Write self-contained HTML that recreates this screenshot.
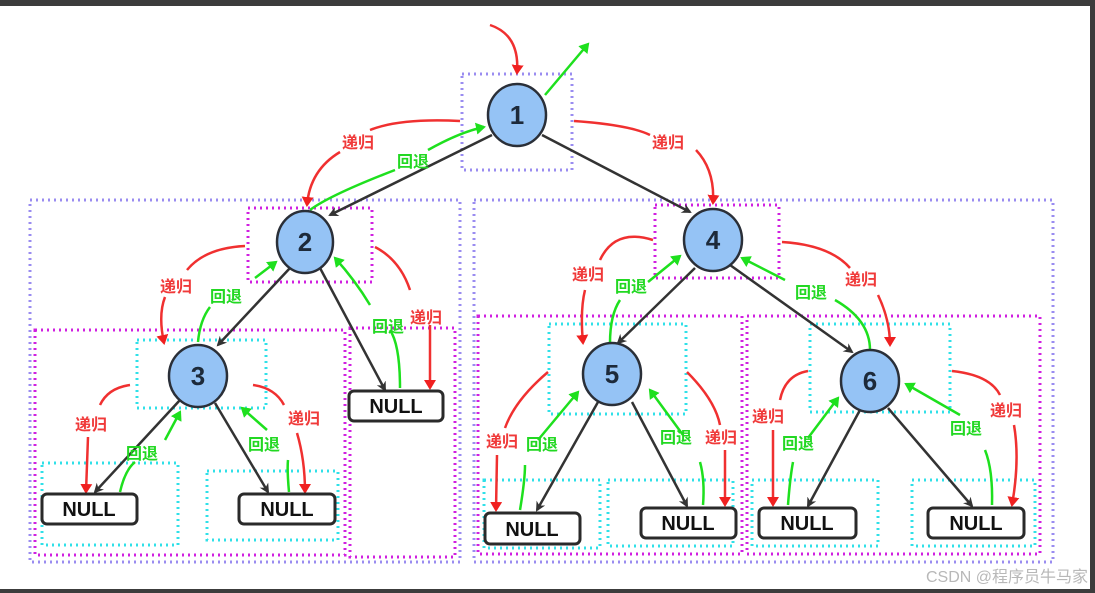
<!DOCTYPE html>
<html><head><meta charset="utf-8"><style>
html,body{margin:0;padding:0;background:#fff;}
svg{display:block;}
text{font-family:"Liberation Sans","Noto Sans CJK SC",sans-serif;}
.lb{font-size:16px;font-weight:bold;}
.r{fill:#f03a3a;}
.g{fill:#22d822;}
.nul{font-size:20px;font-weight:bold;fill:#111;}
.num{font-size:26px;font-weight:bold;fill:#1d2a3a;}
</style></head><body>
<svg width="1095" height="593" viewBox="0 0 1095 593" xmlns="http://www.w3.org/2000/svg">
<defs>
<marker id="ab" markerWidth="10" markerHeight="10" refX="8" refY="5" orient="auto" markerUnits="userSpaceOnUse"><path d="M0,0 L10,5 L0,10 L3,5z" fill="#333"/></marker>
<marker id="ar" markerWidth="10" markerHeight="12" refX="8" refY="6" orient="auto" markerUnits="userSpaceOnUse"><path d="M0,0 L10,6 L0,12z" fill="#f02020"/></marker>
<marker id="ag" markerWidth="10" markerHeight="12" refX="8" refY="6" orient="auto" markerUnits="userSpaceOnUse"><path d="M0,0 L10,6 L0,12z" fill="#1ee01e"/></marker>
</defs>
<rect x="0" y="0" width="1095" height="6" fill="#3c3c3c"/>
<rect x="0" y="589" width="1095" height="4" fill="#3c3c3c"/>
<rect x="1090" y="0" width="5" height="593" fill="#3c3c3c"/>

<g fill="none" stroke-width="3" stroke-dasharray="2 4">
<g stroke="#9a8cf0">
<rect x="462" y="74" width="110" height="96"/>
<rect x="30" y="200" width="430" height="362"/>
<rect x="474" y="200" width="579" height="362"/>
</g>
<g stroke="#d020e0">
<rect x="248" y="208" width="124" height="74"/>
<rect x="655" y="205" width="124" height="73"/>
<rect x="35" y="330" width="310" height="225"/>
<rect x="350" y="328" width="105" height="229"/>
<rect x="478" y="316" width="264" height="238"/>
<rect x="747" y="316" width="293" height="238"/>
</g>
<g stroke="#30e0e8">
<rect x="137" y="340" width="129" height="68"/>
<rect x="42" y="463" width="136" height="82"/>
<rect x="207" y="471" width="131" height="69"/>
<rect x="549" y="324" width="137" height="90"/>
<rect x="810" y="324" width="140" height="88"/>
<rect x="484" y="480" width="116" height="68"/>
<rect x="608" y="480" width="125" height="66"/>
<rect x="752" y="480" width="126" height="66"/>
<rect x="912" y="480" width="123" height="66"/>
</g>
</g>

<!-- black edges -->
<g stroke="#333" stroke-width="2.5" fill="none">
<line x1="492" y1="135" x2="330" y2="215" marker-end="url(#ab)"/>
<line x1="542" y1="135" x2="690" y2="212" marker-end="url(#ab)"/>
<line x1="290" y1="268" x2="218" y2="345" marker-end="url(#ab)"/>
<line x1="320" y1="268" x2="385" y2="390" marker-end="url(#ab)"/>
<line x1="180" y1="400" x2="95" y2="492" marker-end="url(#ab)"/>
<line x1="215" y1="403" x2="268" y2="492" marker-end="url(#ab)"/>
<line x1="695" y1="268" x2="618" y2="343" marker-end="url(#ab)"/>
<line x1="730" y1="265" x2="852" y2="352" marker-end="url(#ab)"/>
<line x1="598" y1="402" x2="537" y2="510" marker-end="url(#ab)"/>
<line x1="632" y1="402" x2="687" y2="506" marker-end="url(#ab)"/>
<line x1="860" y1="410" x2="808" y2="506" marker-end="url(#ab)"/>
<line x1="888" y1="408" x2="972" y2="506" marker-end="url(#ab)"/>
</g>

<!-- red curves -->
<g stroke="#f03030" stroke-width="2.5" fill="none">
<path d="M490,25 Q520,35 517,73" marker-end="url(#ar)"/>
<path d="M460,121 Q400,118 370,130 M340,152 Q310,170 307,205" marker-end="url(#ar)"/>
<path d="M574,121 Q630,125 650,135 M696,150 Q715,170 713,203" marker-end="url(#ar)"/>
<path d="M245,246 Q205,248 187,270 M165,297 Q158,315 164,343" marker-end="url(#ar)"/>
<path d="M375,247 Q400,260 410,290 M430,325 L430,388" marker-end="url(#ar)"/>
<path d="M130,385 Q108,388 100,405 M88,437 L86,492" marker-end="url(#ar)"/>
<path d="M253,385 Q275,388 284,405 M297,433 Q305,460 305,492" marker-end="url(#ar)"/>
<path d="M653,240 Q615,228 600,260 M585,290 Q580,310 583,343" marker-end="url(#ar)"/>
<path d="M782,242 Q830,245 850,268 M878,295 Q890,320 890,345" marker-end="url(#ar)"/>
<path d="M548,372 Q515,400 505,428 M497,455 L496,510" marker-end="url(#ar)"/>
<path d="M687,372 Q715,400 720,425 M725,450 L725,505" marker-end="url(#ar)"/>
<path d="M808,371 Q785,375 780,400 M773,430 L773,505" marker-end="url(#ar)"/>
<path d="M952,371 Q990,375 1000,395 M1014,425 Q1020,460 1012,505" marker-end="url(#ar)"/>
</g>

<!-- green curves -->
<g stroke="#1ee01e" stroke-width="2.5" fill="none">
<path d="M545,95 L588,44" marker-end="url(#ag)"/>
<path d="M310,210 Q330,195 395,170 M428,150 Q460,132 484,127" marker-end="url(#ag)"/>
<path d="M198,342 Q200,320 210,307 M255,278 L276,262" marker-end="url(#ag)"/>
<path d="M400,388 Q400,345 390,330 M370,305 Q355,280 335,258" marker-end="url(#ag)"/>
<path d="M120,492 Q125,470 135,462 M165,440 L180,412" marker-end="url(#ag)"/>
<path d="M289,492 Q287,470 288,460 M267,430 L242,408" marker-end="url(#ag)"/>
<path d="M610,343 Q610,315 620,300 M648,282 L680,256" marker-end="url(#ag)"/>
<path d="M870,350 Q870,320 835,300 M785,280 L742,258" marker-end="url(#ag)"/>
<path d="M520,510 Q525,480 525,465 M538,440 L578,392" marker-end="url(#ag)"/>
<path d="M703,505 Q705,480 700,462 M683,435 L650,390" marker-end="url(#ag)"/>
<path d="M788,505 Q790,478 793,462 M808,438 L838,398" marker-end="url(#ag)"/>
<path d="M992,505 Q993,470 985,450 M960,415 L906,384" marker-end="url(#ag)"/>
</g>

<!-- labels -->
<g class="lb">
<text x="342" y="148" class="r">递归</text>
<text x="397" y="167" class="g">回退</text>
<text x="652" y="148" class="r">递归</text>
<text x="160" y="292" class="r">递归</text>
<text x="210" y="302" class="g">回退</text>
<text x="372" y="332" class="g">回退</text>
<text x="410" y="323" class="r">递归</text>
<text x="75" y="430" class="r">递归</text>
<text x="126" y="459" class="g">回退</text>
<text x="288" y="424" class="r">递归</text>
<text x="248" y="450" class="g">回退</text>
<text x="572" y="280" class="r">递归</text>
<text x="615" y="292" class="g">回退</text>
<text x="845" y="285" class="r">递归</text>
<text x="795" y="298" class="g">回退</text>
<text x="486" y="447" class="r">递归</text>
<text x="526" y="450" class="g">回退</text>
<text x="660" y="443" class="g">回退</text>
<text x="705" y="443" class="r">递归</text>
<text x="752" y="422" class="r">递归</text>
<text x="782" y="449" class="g">回退</text>
<text x="990" y="416" class="r">递归</text>
<text x="950" y="434" class="g">回退</text>
</g>

<!-- nodes -->
<g fill="#95c3f5" stroke="#2a2f38" stroke-width="2.5">
<ellipse cx="517" cy="115" rx="29" ry="31"/>
<ellipse cx="305" cy="242" rx="28" ry="31"/>
<ellipse cx="198" cy="376" rx="29" ry="31"/>
<ellipse cx="713" cy="240" rx="29" ry="31"/>
<ellipse cx="612" cy="374" rx="29" ry="31"/>
<ellipse cx="870" cy="381" rx="29" ry="31"/>
</g>
<g class="num" text-anchor="middle">
<text x="517" y="124">1</text>
<text x="305" y="251">2</text>
<text x="198" y="385">3</text>
<text x="713" y="249">4</text>
<text x="612" y="383">5</text>
<text x="870" y="390">6</text>
</g>

<g fill="#fff" stroke="#2a2a2a" stroke-width="3">
<rect x="42" y="494" width="95" height="30" rx="5"/>
<rect x="239" y="494" width="96" height="30" rx="5"/>
<rect x="349" y="391" width="94" height="30" rx="5"/>
<rect x="485" y="513" width="95" height="31" rx="5"/>
<rect x="641" y="508" width="95" height="30" rx="5"/>
<rect x="759" y="508" width="97" height="30" rx="5"/>
<rect x="928" y="508" width="96" height="30" rx="5"/>
</g>
<g class="nul" text-anchor="middle">
<text x="89" y="516">NULL</text>
<text x="287" y="516">NULL</text>
<text x="396" y="413">NULL</text>
<text x="532" y="536">NULL</text>
<text x="688" y="530">NULL</text>
<text x="807" y="530">NULL</text>
<text x="976" y="530">NULL</text>
</g>
<text x="1088" y="582" text-anchor="end" style="font-size:16px;fill:#b8b8b8;">CSDN @程序员牛马家</text>
</svg>
</body></html>
